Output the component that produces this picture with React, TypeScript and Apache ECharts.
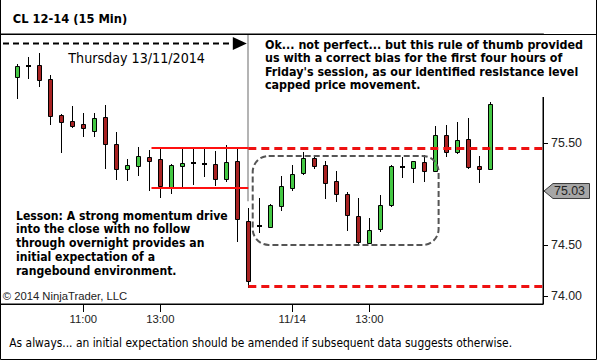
import React, { useEffect, useRef } from "react";
import * as echarts from "echarts";

// ---- data (CL 12-14, 15 min bars, Thu 13/11/2014 -> Fri 14/11/2014) ----
const opens = [76.15, 76.26, 76.27, 76.13, 75.78, 75.72, 75.69, 75.62, 75.76, 75.49, 75.25, 75.28, 75.36, 75.34, 75.07, 75.28, 75.31, 75.30, 75.30, 75.15, 75.33, 74.74, 74.69, 74.68, 74.88, 75.06, 75.21, 75.35, 75.29, 75.13, 75.00, 74.78, 74.52, 74.66, 74.89, 75.27, 75.26, 75.32, 75.23, 75.58, 75.41, 75.54, 75.28, 75.25];
const closes = [76.26, 76.26, 76.12, 75.77, 75.71, 75.67, 75.65, 75.75, 75.49, 75.25, 75.29, 75.37, 75.33, 75.08, 75.29, 75.31, 75.31, 75.30, 75.15, 75.32, 74.75, 74.15, 74.69, 74.89, 75.08, 75.20, 75.35, 75.28, 75.11, 75.00, 74.79, 74.53, 74.65, 74.89, 75.28, 75.27, 75.33, 75.23, 75.58, 75.41, 75.53, 75.27, 75.25, 75.89];
const lows = [75.93, 76.13, 76.05, 75.68, 75.40, 75.65, 75.56, 75.56, 75.25, 75.14, 75.13, 75.18, 75.03, 74.96, 75.00, 75.07, 75.09, 75.17, 75.08, 75.12, 74.53, 74.08, 74.62, 74.68, 74.83, 75.03, 75.19, 75.25, 74.95, 74.92, 74.64, 74.50, 74.52, 74.63, 74.87, 75.16, 75.11, 75.12, 75.23, 75.36, 75.39, 75.25, 75.11, 75.25];
const highs = [76.28, 76.35, 76.39, 76.17, 75.79, 75.87, 75.80, 75.80, 75.88, 75.61, 75.34, 75.46, 75.43, 75.44, 75.30, 75.44, 75.44, 75.44, 75.42, 75.48, 75.45, 74.86, 74.96, 74.90, 75.18, 75.29, 75.41, 75.38, 75.33, 75.23, 75.02, 74.96, 74.76, 74.99, 75.29, 75.36, 75.33, 75.38, 75.67, 75.68, 75.71, 75.75, 75.37, 75.91];

const xTickIndex = [6, 13, 25, 32];
const xTickLabels = ["11:00", "13:00", "11/14", "13:00"];
const yTickValues = [74.0, 74.5, 75.5];
const lastPrice = 75.03;

// annotation levels
const resistanceLevel = 75.45;
const rangeLowLevel = 75.06;
const supportLevel = 74.1;
const rangeStartIndex = 12.2;
const sessionBreakIndex = 21;
const sessionBreakBottom = 74.93;
const boxIndexRange = [21.4, 38.3];
const boxPriceRange = [74.5, 75.375];

const titleText = "CL 12-14 (15 Min)";
const dayText = "Thursday 13/11/2014";
const noteLines = [
  "Ok... not perfect... but this rule of thumb provided",
  "us with a correct bias for the first four hours of",
  "Friday's session, as our identified resistance level",
  "capped price movement.",
];
const lessonLines = [
  "Lesson: A strong momentum drive",
  "into the close with no follow",
  "through overnight provides an",
  "initial expectation of a",
  "rangebound environment.",
];
const copyrightText = "\u00a9 2014 NinjaTrader, LLC";
const footerText = "As always... an initial expectation should be amended if subsequent data suggests otherwise.";

const X_MIN = -1.573;
const X_MAX = 47.79;
const Y_MIN = 73.919;
const Y_MAX = 76.574;

const TAHOMA = "'DejaVu Sans Condensed', 'DejaVu Sans', sans-serif";
const ARIAL = "'Liberation Sans', Arial, sans-serif";
const GREEN = "#44c844";
const RED = "#a82222";

function fitSize(text: string, weight: string, family: string, target: number): number {
  const ctx = document.createElement("canvas").getContext("2d");
  if (!ctx) return 12;
  ctx.font = `${weight} 100px ${family}`;
  const w = ctx.measureText(text).width;
  return (100 * target) / w;
}

export default function App() {
  const ref = useRef<HTMLDivElement>(null);

  useEffect(() => {
    if (!ref.current) return;
    const chart = echarts.init(ref.current, undefined, { renderer: "svg" });

    const data = opens.map((o, i) => [i, o, closes[i], lows[i], highs[i]]);
    const xLabelSize = fitSize("11:00", "normal", ARIAL, 27.5);
    const yLabelSize = fitSize("75.50", "normal", ARIAL, 31);

    chart.setOption({
      animation: false,
      backgroundColor: "#fff",
      grid: { left: 0, top: 34, width: 543, height: 270, show: true, borderColor: "#000", borderWidth: 1, backgroundColor: "transparent" },
      xAxis: {
        type: "value",
        min: X_MIN,
        max: X_MAX,
        position: "bottom",
        splitLine: { show: false },
        axisLine: { show: true, onZero: false, lineStyle: { color: "#000", width: 1 } },
        axisTick: { show: true, length: 8, customValues: xTickIndex, lineStyle: { color: "#000" } },
        axisLabel: {
          show: true,
          customValues: xTickIndex,
          margin: 9,
          color: "#222",
          fontFamily: ARIAL,
          fontSize: xLabelSize,
          formatter: (v: number) => xTickLabels[xTickIndex.indexOf(Math.round(v))] ?? "",
        },
      },
      yAxis: {
        type: "value",
        position: "right",
        min: Y_MIN,
        max: Y_MAX,
        splitLine: { show: false },
        axisLine: { show: true, onZero: false, lineStyle: { color: "#000", width: 1 } },
        axisTick: { show: false },
        axisLabel: {
          show: true,
          customValues: yTickValues,
          margin: 8,
          color: "#222",
          fontFamily: ARIAL,
          fontSize: yLabelSize,
          formatter: (v: number) => v.toFixed(2),
        },
      },
      series: [
        {
          type: "custom",
          encode: { x: 0, y: [1, 2, 3, 4] },
          data,
          renderItem: (params: any, api: any) => {
            const i = api.value(0);
            const o = api.value(1);
            const c = api.value(2);
            const l = api.value(3);
            const h = api.value(4);
            const pO = api.coord([i, o]);
            const pC = api.coord([i, c]);
            const pH = api.coord([i, h]);
            const pL = api.coord([i, l]);
            const cx = Math.round(pO[0]);
            const yTop = Math.round(Math.min(pO[1], pC[1]));
            const yBot = Math.round(Math.max(pO[1], pC[1]));
            const children: any[] = [
              {
                type: "line",
                shape: { x1: cx + 0.5, y1: Math.round(pH[1]), x2: cx + 0.5, y2: Math.round(pL[1]) },
                style: { stroke: "#000", lineWidth: 1 },
              },
            ];
            if (Math.abs(o - c) < 0.005) {
              children.push({
                type: "rect",
                shape: { x: cx - 2, y: yTop - 1, width: 5, height: 2 },
                style: { fill: "#000" },
              });
            } else {
              children.push({
                type: "rect",
                shape: { x: cx - 2 + 0.5, y: yTop + 0.5, width: 4, height: Math.max(1, yBot - yTop) },
                style: { fill: c > o ? GREEN : RED, stroke: "#000", lineWidth: 1 },
              });
            }
            return { type: "group", children };
          },
        },
      ],
    });

    const P = (x: number, y: number) => chart.convertToPixel({ xAxisIndex: 0, yAxisIndex: 0 }, [x, y]) as number[];

    const titleSize = fitSize(titleText, "bold", TAHOMA, 114.6);
    const daySize = fitSize(dayText, "normal", TAHOMA, 136.7);
    const noteSize = fitSize(noteLines[0], "bold", TAHOMA, 318.3);
    const lessonSize = fitSize(lessonLines[0], "bold", TAHOMA, 211.7);
    const copySize = fitSize(copyrightText, "normal", ARIAL, 124.6);
    const footSize = fitSize(footerText, "normal", TAHOMA, 503.4);
    const markSize = fitSize("75.03", "normal", ARIAL, 31);

    const breakTop = P(sessionBreakIndex, Y_MAX);
    const breakBot = P(sessionBreakIndex, sessionBreakBottom);
    const rs = P(rangeStartIndex, resistanceLevel);
    const rsEnd = P(sessionBreakIndex, resistanceLevel);
    const rl = P(rangeStartIndex, rangeLowLevel);
    const rlEnd = P(sessionBreakIndex, rangeLowLevel);
    const dRes = P(sessionBreakIndex, resistanceLevel);
    const dResEnd = P(X_MAX, resistanceLevel);
    const dSup = P(sessionBreakIndex, supportLevel);
    const dSupEnd = P(X_MAX, supportLevel);
    const b1 = P(boxIndexRange[0], boxPriceRange[1]);
    const b2 = P(boxIndexRange[1], boxPriceRange[0]);
    const mk = P(X_MAX, lastPrice);
    const arrowTip = breakTop[0] - 1.5;
    const ay = 43.5;
    const my = mk[1];
    const mx = mk[0] + 1;

    const crisp = (v: number) => Math.round(v);

    const yTicks = yTickValues.map((v) => {
      const p = P(X_MAX, v);
      const yy = crisp(p[1]) + 0.5;
      return { type: "line", z: 45, shape: { x1: p[0], y1: yy, x2: p[0] + 5, y2: yy }, style: { stroke: "#000", lineWidth: 1 } };
    });

    const graphic: any[] = [
      // white note box over the plot's top right
      { type: "rect", z: 50, shape: { x: 249, y: 35, width: 346, height: 62 }, style: { fill: "#fff" } },
      // frame lines
      { type: "line", z: 60, shape: { x1: 0, y1: 34.5, x2: 597, y2: 34.5 }, style: { stroke: "#000", lineWidth: 1 } },
      { type: "polyline", z: 60, shape: { points: [[0.5, 0], [0.5, 359.5], [596.5, 359.5], [596.5, 0]] }, style: { stroke: "#000", lineWidth: 1, fill: null } },
      ...yTicks,
      // session break
      { type: "line", z: 40, shape: { x1: crisp(breakTop[0]), y1: breakTop[1], x2: crisp(breakTop[0]), y2: breakBot[1] }, style: { stroke: "#b4b4b4", lineWidth: 2 } },
      // arrow
      { type: "line", z: 45, shape: { x1: 3, y1: ay, x2: arrowTip - 12, y2: ay }, style: { stroke: "#000", lineWidth: 2, lineDash: [6, 4] } },
      { type: "polygon", z: 45, shape: { points: [[arrowTip - 14, ay - 6.5], [arrowTip, ay], [arrowTip - 14, ay + 6.5]] }, style: { fill: "#000" } },
      // range lines
      { type: "line", z: 40, shape: { x1: rs[0], y1: crisp(rs[1]), x2: rsEnd[0], y2: crisp(rsEnd[1]) }, style: { stroke: "#ff1010", lineWidth: 2 } },
      { type: "line", z: 40, shape: { x1: rl[0], y1: crisp(rl[1]), x2: rlEnd[0], y2: crisp(rlEnd[1]) }, style: { stroke: "#ff1010", lineWidth: 2 } },
      { type: "line", z: 40, shape: { x1: dRes[0], y1: crisp(dRes[1]) + 0.5, x2: dResEnd[0], y2: crisp(dResEnd[1]) + 0.5 }, style: { stroke: "#ee1111", lineWidth: 3, lineDash: [8, 5] } },
      { type: "line", z: 40, shape: { x1: dSup[0], y1: crisp(dSup[1]) + 0.5, x2: dSupEnd[0], y2: crisp(dSupEnd[1]) + 0.5 }, style: { stroke: "#ee1111", lineWidth: 3, lineDash: [8, 5] } },
      // rounded dashed box
      { type: "rect", z: 40, shape: { x: b1[0], y: b1[1], width: b2[0] - b1[0], height: b2[1] - b1[1], r: 16 }, style: { fill: null, stroke: "#555", lineWidth: 2, lineDash: [6, 3] } },
      // last price marker
      {
        type: "polygon",
        z: 70,
        shape: { points: [[mx, my], [mx + 9, my - 7.5], [589.5, my - 7.5], [589.5, my + 7.5], [mx + 9, my + 7.5]] },
        style: { fill: "#a6a6a6", stroke: "#3a3a3a", lineWidth: 1 },
      },
      { type: "text", z: 71, x: 554, y: my, style: { text: "75.03", font: `normal ${markSize}px ${ARIAL}`, fill: "#222", textAlign: "left", textVerticalAlign: "middle" } },
      // texts
      { type: "text", z: 60, x: 12.7, y: 18, style: { text: titleText, font: `bold ${titleSize}px ${TAHOMA}`, fill: "#000", textAlign: "left", textVerticalAlign: "middle" } },
      { type: "text", z: 60, x: 68.3, y: 58.3, style: { text: dayText, font: `normal ${daySize}px ${TAHOMA}`, fill: "#000", textAlign: "left", textVerticalAlign: "middle" } },
      ...noteLines.map((t, k) => ({
        type: "text",
        z: 60,
        x: 265,
        y: 45 + k * 13.3,
        style: { text: t, font: `bold ${noteSize}px ${TAHOMA}`, fill: "#000", textAlign: "left", textVerticalAlign: "middle" },
      })),
      ...lessonLines.map((t, k) => ({
        type: "text",
        z: 60,
        x: 16,
        y: 215.5 + k * 13.9,
        style: { text: t, font: `bold ${lessonSize}px ${TAHOMA}`, fill: "#000", textAlign: "left", textVerticalAlign: "middle" },
      })),
      { type: "text", z: 60, x: 2.7, y: 296, style: { text: copyrightText, font: `normal ${copySize}px ${ARIAL}`, fill: "#222", textAlign: "left", textVerticalAlign: "middle" } },
      { type: "text", z: 60, x: 9.3, y: 343.3, style: { text: footerText, font: `normal ${footSize}px ${TAHOMA}`, fill: "#000", textAlign: "left", textVerticalAlign: "middle" } },
    ];

    chart.setOption({ graphic });

    return () => chart.dispose();
  }, []);

  return (
    <div
      ref={ref}
      style={{ position: "absolute", left: 0, top: 0, width: 598, height: 360, background: "#fff" }}
    />
  );
}
